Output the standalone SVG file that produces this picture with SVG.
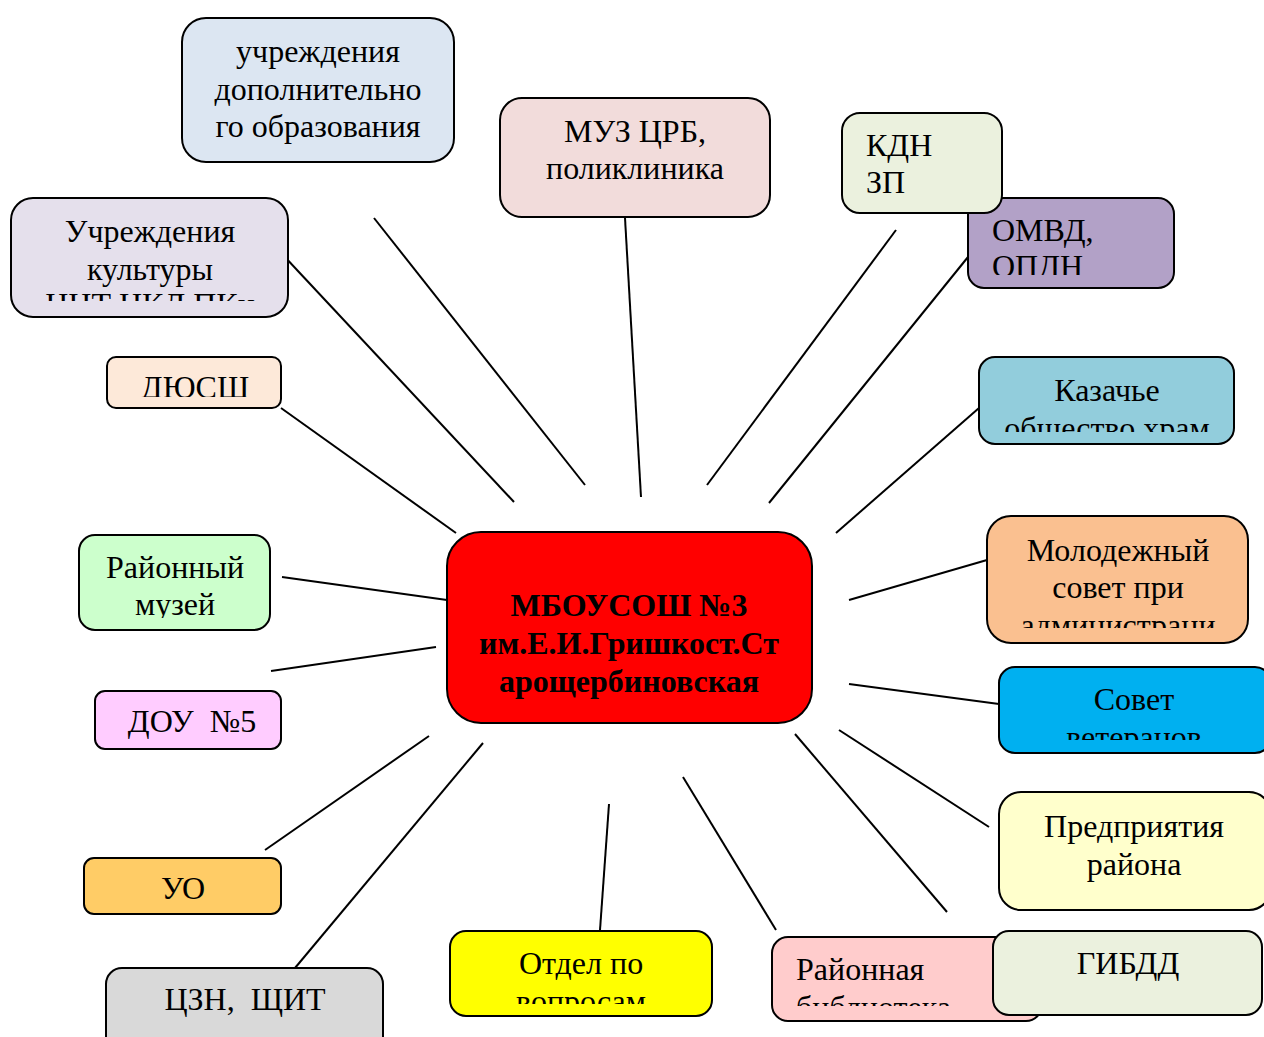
<svg xmlns="http://www.w3.org/2000/svg" width="1264" height="1037" viewBox="0 0 1264 1037">
<style>
.b{stroke:#000;stroke-width:2}
.t{font-family:"Liberation Serif","Times New Roman",serif;font-size:32px;fill:#000}
.c{text-anchor:middle}
.bold{font-weight:bold}
#connectors line{stroke:#000;stroke-width:2}
</style>
<defs>
<clipPath id="c5"><rect x="11" y="198" width="277" height="103"/></clipPath>
<clipPath id="c4"><rect x="968" y="198" width="206" height="77"/></clipPath>
<clipPath id="c6"><rect x="107" y="357" width="174" height="40"/></clipPath>
<clipPath id="c7"><rect x="979" y="357" width="255" height="75"/></clipPath>
<clipPath id="c8"><rect x="79" y="535" width="191" height="83"/></clipPath>
<clipPath id="c10"><rect x="987" y="516" width="261" height="112"/></clipPath>
<clipPath id="c11"><rect x="999" y="667" width="265" height="73"/></clipPath>
<clipPath id="c16"><rect x="450" y="931" width="262" height="73"/></clipPath>
<clipPath id="c17"><rect x="772" y="937" width="220" height="69"/></clipPath>
</defs>
<rect width="1264" height="1037" fill="#fff"/>
<g id="connectors">
<line x1="374" y1="218" x2="585" y2="485"/>
<line x1="283" y1="255" x2="514" y2="502"/>
<line x1="625" y1="218" x2="641" y2="497"/>
<line x1="896" y1="230" x2="707" y2="485"/>
<line x1="968" y1="257" x2="769" y2="503"/>
<line x1="281" y1="408" x2="456" y2="533"/>
<line x1="979" y1="408" x2="836" y2="533"/>
<line x1="282" y1="577" x2="447" y2="600"/>
<line x1="987" y1="560" x2="849" y2="600"/>
<line x1="271" y1="671" x2="436" y2="647"/>
<line x1="849" y1="684" x2="999" y2="704"/>
<line x1="265" y1="850" x2="429" y2="736"/>
<line x1="295" y1="968" x2="483" y2="743"/>
<line x1="600" y1="930" x2="609" y2="804"/>
<line x1="683" y1="777" x2="776" y2="930"/>
<line x1="795" y1="734" x2="947" y2="912"/>
<line x1="839" y1="730" x2="989" y2="827"/>
</g>
<g id="n-dop">
<rect class="b" x="182" y="18" width="272" height="144" rx="24" fill="#dce6f2"/>
<text class="t c" x="318" y="62">учреждения</text>
<text class="t c" x="318" y="100">дополнительно</text>
<text class="t c" x="318" y="137">го образования</text>
</g>
<g id="n-muz">
<rect class="b" x="500" y="98" width="270" height="119" rx="22" fill="#f2dcdb"/>
<text class="t c" x="635" y="142">МУЗ ЦРБ,</text>
<text class="t c" x="635" y="179">поликлиника</text>
</g>
<g id="n-omvd">
<rect class="b" x="968" y="198" width="206" height="90" rx="16" fill="#b2a1c7"/>
<g clip-path="url(#c4)">
<text class="t" x="992" y="241">ОМВД,</text>
<text class="t" x="992" y="277">ОПДН</text>
</g>
</g>
<g id="n-kdn">
<rect class="b" x="842" y="113" width="160" height="100" rx="18" fill="#ebf1de"/>
<text class="t" x="866" y="156">КДН</text>
<text class="t" x="866" y="193">ЗП</text>
</g>
<g id="n-kult">
<rect class="b" x="11" y="198" width="277" height="119" rx="22" fill="#e5e0ec"/>
<g clip-path="url(#c5)">
<text class="t c" x="150" y="242">Учреждения</text>
<text class="t c" x="150" y="280">культуры</text>
<text class="t c" x="150" y="315">ЦНТ ЦКД ПКи</text>
</g>
</g>
<g id="n-dussh">
<rect class="b" x="107" y="357" width="174" height="51" rx="9" fill="#fde9d9"/>
<g clip-path="url(#c6)">
<text class="t c" x="195" y="398">ДЮСШ</text>
</g>
</g>
<g id="n-kaz">
<rect class="b" x="979" y="357" width="255" height="87" rx="16" fill="#92cddc"/>
<g clip-path="url(#c7)">
<text class="t c" x="1107" y="401">Казачье</text>
<text class="t c" x="1107" y="439">общество храм</text>
</g>
</g>
<g id="n-museum">
<rect class="b" x="79" y="535" width="191" height="95" rx="16" fill="#ccffcc"/>
<g clip-path="url(#c8)">
<text class="t c" x="175" y="578">Районный</text>
<text class="t c" x="175" y="615">музей</text>
</g>
</g>
<g id="n-center">
<rect class="b" x="447" y="532" width="365" height="191" rx="34" fill="#ff0000"/>
<text class="t c bold" x="629" y="616">МБОУСОШ №3</text>
<text class="t c bold" x="629" y="654">им.Е.И.Гришкост.Ст</text>
<text class="t c bold" x="629" y="692">арощербиновская</text>
</g>
<g id="n-molod">
<rect class="b" x="987" y="516" width="261" height="127" rx="24" fill="#fac090"/>
<g clip-path="url(#c10)">
<text class="t c" x="1118" y="561">Молодежный</text>
<text class="t c" x="1118" y="598">совет при</text>
<text class="t c" x="1118" y="636">администраци</text>
</g>
</g>
<g id="n-sovet">
<rect class="b" x="999" y="667" width="272" height="86" rx="16" fill="#00b0f0"/>
<g clip-path="url(#c11)">
<text class="t c" x="1134" y="710">Совет</text>
<text class="t c" x="1134" y="748">ветеранов</text>
</g>
</g>
<g id="n-dou">
<rect class="b" x="95" y="691" width="186" height="58" rx="10" fill="#ffccff"/>
<text class="t c" x="192" y="732" xml:space="preserve">ДОУ  №5</text>
</g>
<g id="n-pred">
<rect class="b" x="999" y="792" width="272" height="118" rx="22" fill="#ffffcc"/>
<text class="t c" x="1134" y="837">Предприятия</text>
<text class="t c" x="1134" y="875">района</text>
</g>
<g id="n-uo">
<rect class="b" x="84" y="858" width="197" height="56" rx="10" fill="#ffcc66"/>
<text class="t c" x="183" y="899">УО</text>
</g>
<g id="n-czn">
<rect class="b" x="106" y="968" width="277" height="90" rx="16" fill="#d9d9d9"/>
<text class="t c" x="245" y="1010" xml:space="preserve">ЦЗН,  ЩИТ</text>
</g>
<g id="n-otdel">
<rect class="b" x="450" y="931" width="262" height="85" rx="16" fill="#ffff00"/>
<g clip-path="url(#c16)">
<text class="t c" x="581" y="974">Отдел по</text>
<text class="t c" x="581" y="1012">вопросам</text>
</g>
</g>
<g id="n-bibl">
<rect class="b" x="772" y="937" width="270" height="84" rx="16" fill="#ffcccc"/>
<g clip-path="url(#c17)">
<text class="t" x="796" y="980">Районная</text>
<text class="t" x="796" y="1018">библиотека</text>
</g>
</g>
<g id="n-gibdd">
<rect class="b" x="993" y="931" width="269" height="84" rx="16" fill="#ebf1de"/>
<text class="t c" x="1128" y="974">ГИБДД</text>
</g>
</svg>
